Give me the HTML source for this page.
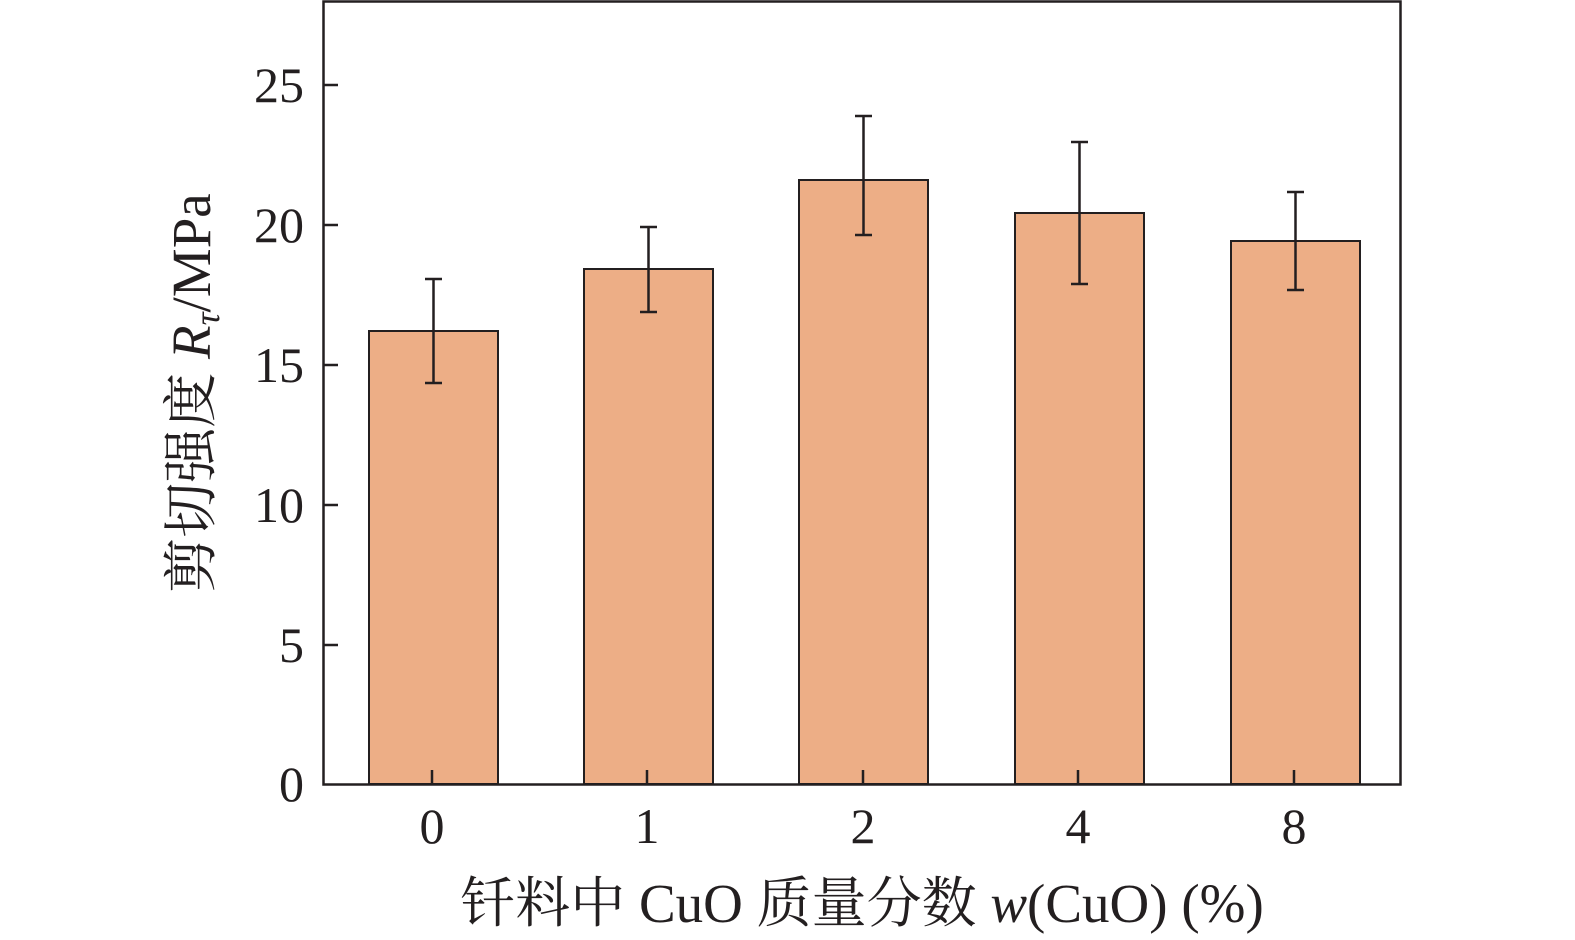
<!DOCTYPE html>
<html><head><meta charset="utf-8"><style>
html,body{margin:0;padding:0;background:#fff;}
svg{display:block;}
text{font-family:"Liberation Serif","Noto Serif CJK SC",serif;fill:#231f20;}
</style></head><body>
<svg width="1575" height="940" viewBox="0 0 1575 940" xmlns="http://www.w3.org/2000/svg">
<g fill="#EDAE86" stroke="#231f20" stroke-width="2">
<rect x="369" y="331" width="129" height="453"/>
<rect x="584" y="269" width="129" height="515"/>
<rect x="799" y="180" width="129" height="604"/>
<rect x="1015" y="213" width="129" height="571"/>
<rect x="1231" y="241" width="129" height="543"/>
</g>
<g stroke="#231f20" stroke-width="2.5">
<path d="M433.5 279V383M425 279H442M425 383H442"/>
<path d="M648.5 227V312M640 227H657M640 312H657"/>
<path d="M863.5 116V235M855 116H872M855 235H872"/>
<path d="M1079.5 142V284M1071 142H1088M1071 284H1088"/>
<path d="M1295.5 192V290M1287 192H1304M1287 290H1304"/>
</g>
<g stroke="#231f20" stroke-width="2.5" fill="none">
<rect x="323.5" y="1.5" width="1077" height="783"/>
<path d="M323 85H338M323 225H338M323 365H338M323 505H338M323 645H338"/>
<path d="M432 784V770M647 784V770M863 784V770M1078 784V770M1294 784V770"/>
</g>
<g font-size="50" text-anchor="end">
<text x="304" y="801">0</text>
<text x="304" y="662">5</text>
<text x="304" y="522">10</text>
<text x="304" y="382">15</text>
<text x="304" y="242">20</text>
<text x="304" y="102">25</text>
</g>
<g font-size="50" text-anchor="middle">
<text x="432" y="843">0</text>
<text x="647" y="843">1</text>
<text x="863" y="843">2</text>
<text x="1078" y="843">4</text>
<text x="1294" y="843">8</text>
</g>
<text x="862" y="922" font-size="55" text-anchor="middle">钎料中 CuO 质量分数 <tspan font-style="italic">w</tspan>(CuO) (%)</text>
<text transform="translate(210,393) rotate(-90)" font-size="55" text-anchor="middle">剪切强度 <tspan font-style="italic">R</tspan><tspan font-style="italic" font-size="36" dy="9">τ</tspan><tspan dy="-9">/MPa</tspan></text>
</svg>
</body></html>
